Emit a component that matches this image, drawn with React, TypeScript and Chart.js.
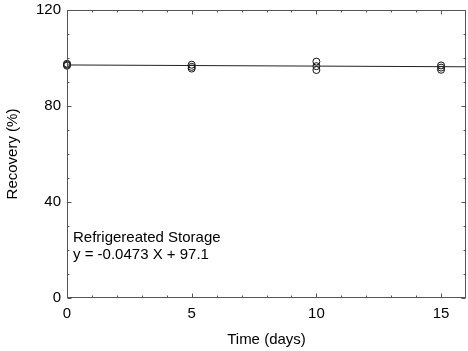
import React, { useEffect, useRef } from 'react';
import { Chart, registerables } from 'chart.js';

Chart.register(...registerables);

const days = [0, 0, 0, 5, 5, 5, 10, 10, 10, 15, 15, 15];
const recovery = [97.6, 97.2, 96.8, 97.2, 96.3, 95.6, 98.5, 96.6, 95.0, 96.9, 96.0, 95.1];
const fitX = [0, 16];
const fitY = [97.1, 96.34];
const xTickValues = [0, 5, 10, 15];
const yTickValues = [0, 40, 80, 120];
const xMinorTicks = [1, 2, 3, 4, 6, 7, 8, 9, 11, 12, 13, 14];
const yMinorTicks = [10, 20, 30, 50, 60, 70, 90, 100, 110];
const annotationLines = ['Refrigereated Storage', 'y = -0.0473 X + 97.1'];
const xTitle = 'Time (days)';
const yTitle = 'Recovery (%)';

const FONT = "'Liberation Sans', Arial, sans-serif";

const framePlugin = {
  id: 'frameAndTicks',
  afterDraw(chart: any) {
    const { ctx, chartArea: ca, scales } = chart;
    const xs = scales.x;
    const ys = scales.y;
    ctx.save();
    ctx.strokeStyle = '#555';
    ctx.lineWidth = 1;
    const l = Math.round(ca.left) + 0.5;
    const r = Math.round(ca.right) - 0.5;
    const t = Math.round(ca.top) + 0.5;
    const b = Math.round(ca.bottom) - 0.5;
    ctx.strokeRect(l, t, r - l, b - t);
    ctx.beginPath();
    const tickX = (v: number, len: number) => {
      const px = Math.round(xs.getPixelForValue(v)) + 0.5;
      ctx.moveTo(px, b);
      ctx.lineTo(px, b - len);
      ctx.moveTo(px, t);
      ctx.lineTo(px, t + len);
    };
    const tickY = (v: number, len: number) => {
      const py = Math.round(ys.getPixelForValue(v)) + 0.5;
      ctx.moveTo(l, py);
      ctx.lineTo(l + len, py);
      ctx.moveTo(r, py);
      ctx.lineTo(r - len, py);
    };
    xTickValues.forEach((v) => tickX(v, 4));
    xMinorTicks.forEach((v) => tickX(v, 2));
    yTickValues.forEach((v) => tickY(v, 4));
    yMinorTicks.forEach((v) => tickY(v, 2));
    ctx.stroke();

    ctx.fillStyle = '#000';
    ctx.font = `15px ${FONT}`;
    ctx.textAlign = 'left';
    ctx.textBaseline = 'alphabetic';
    ctx.fillText(annotationLines[0], ca.left + 6, ca.bottom - 56);
    ctx.fillText(annotationLines[1], ca.left + 6, ca.bottom - 39);
    ctx.restore();
  },
};

export default function App() {
  const ref = useRef<HTMLCanvasElement | null>(null);

  useEffect(() => {
    if (!ref.current) return;
    const points = days.map((d, i) => ({ x: d, y: recovery[i] }));
    const fit = fitX.map((x, i) => ({ x, y: fitY[i] }));
    const chart = new Chart(ref.current, {
      type: 'scatter',
      data: {
        datasets: [
          {
            type: 'line',
            data: fit,
            borderColor: '#222',
            borderWidth: 1,
            pointRadius: 0,
            showLine: true,
            fill: false,
          } as any,
          {
            data: points,
            pointStyle: 'circle',
            pointRadius: 3.5,
            pointBorderWidth: 1,
            borderColor: '#111',
            backgroundColor: 'rgba(0,0,0,0)',
            pointBackgroundColor: 'rgba(0,0,0,0)',
            pointBorderColor: '#111',
            clip: false,
          } as any,
        ],
      },
      options: {
        animation: false,
        responsive: false,
        layout: { autoPadding: false, padding: { top: 10, right: 2, bottom: 2, left: 4 } },
        plugins: {
          legend: { display: false },
          tooltip: { enabled: false },
        },
        scales: {
          x: {
            type: 'linear',
            min: 0,
            max: 16,
            grid: { display: false, drawTicks: false },
            border: { display: false },
            afterBuildTicks: (scale: any) => {
              scale.ticks = xTickValues.map((v) => ({ value: v }));
            },
            afterFit: (scale: any) => {
              scale.height = 51;
              scale.paddingRight = 0;
              scale.paddingLeft = 0;
            },
            ticks: {
              color: '#000',
              padding: 7,
              maxRotation: 0,
              font: { family: FONT, size: 15 },
            },
            title: {
              display: true,
              text: xTitle,
              color: '#000',
              padding: 0,
              font: { family: FONT, size: 15 },
            },
          },
          y: {
            type: 'linear',
            min: 0,
            max: 120,
            grid: { display: false, drawTicks: false },
            border: { display: false },
            afterBuildTicks: (scale: any) => {
              scale.ticks = yTickValues.map((v) => ({ value: v }));
            },
            afterFit: (scale: any) => {
              scale.width = 63;
              scale.paddingTop = 0;
              scale.paddingBottom = 0;
            },
            ticks: {
              color: '#000',
              padding: 6,
              font: { family: FONT, size: 15 },
            },
            title: {
              display: true,
              text: yTitle,
              color: '#000',
              padding: 0,
              font: { family: FONT, size: 15 },
            },
          },
        },
      },
      plugins: [framePlugin],
    });
    return () => chart.destroy();
  }, []);

  return (
    <div style={{ position: 'fixed', left: 0, top: 0, width: 468, height: 351, background: '#fff' }}>
      <canvas ref={ref} width={468} height={351} />
    </div>
  );
}
